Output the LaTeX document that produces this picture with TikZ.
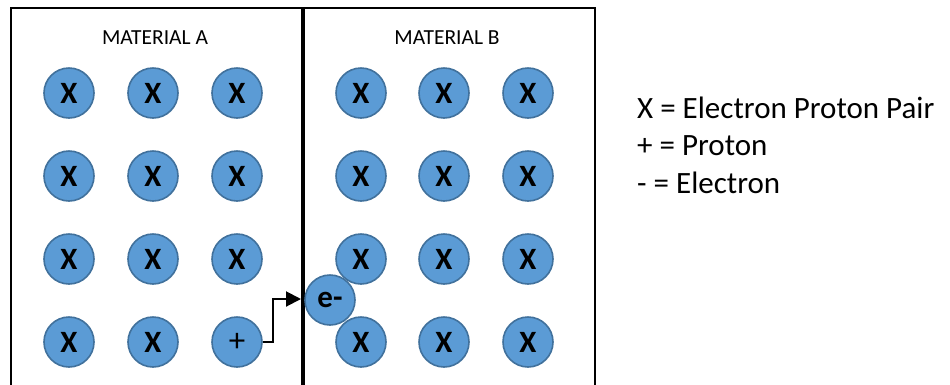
\documentclass[tikz,border=0pt]{standalone}
\usepackage{fontspec}
\setmainfont{Carlito}
\usetikzlibrary{arrows.meta}
\definecolor{ballfill}{HTML}{5B9BD5}
\definecolor{balledge}{HTML}{41719C}
\tikzset{
  ball/.style={circle, minimum size=50pt, inner sep=0pt, fill=ballfill, draw=balledge, line width=1.6pt, font=\fontsize{31}{31}\selectfont\bfseries},
  plusball/.style={ball, font=\fontsize{33}{33}\selectfont},
  frame/.style={line width=2pt, draw=black},
  title/.style={font=\fontsize{21.5}{21.5}\selectfont, anchor=base},
  legend/.style={font=\fontsize{31}{31}\selectfont, anchor=base west, inner sep=0pt},
  movearrow/.style={line width=2pt, -{Triangle[length=15pt,width=15pt]}}
}
\begin{document}
\begin{tikzpicture}[x=1pt,y=-1pt]
\useasboundingbox (0,0) rectangle (950,384);
% frames
\draw[frame] (11,390) -- (11,8) -- (302,8) -- (302,390);
\draw[frame] (303.5,390) -- (303.5,8) -- (595,8) -- (595,390);
\node[title] (titleA) at (155,44) {MATERIAL A};
\node[title] (titleB) at (447,44) {MATERIAL B};
% electron (behind the X balls)
\node[ball] (eminus) at (330,300) {e-};
% material A
\foreach \r/\y in {1/93,2/176,3/259}{
  \foreach \c/\x in {1/69,2/153,3/237}{
    \node[ball] (a\r\c) at (\x,\y) {X};
  }
}
\node[ball] (a41) at (69,342) {X};
\node[ball] (a42) at (153,342) {X};
\node[plusball] (plus) at (237,342) {+};
% material B
\foreach \r/\y in {1/93,2/176,3/259,4/342}{
  \foreach \c/\x in {1/361,2/444,3/528}{
    \node[ball] (b\r\c) at (\x,\y) {X};
  }
}
% arrow
\coordinate (tip) at (301,299);
\draw[movearrow] (plus.east) -- (273,342) |- (tip);
% legend
\node[legend] (leg1) at (637,118) {X = Electron Proton Pair};
\node[legend] (leg2) at (637,155.5) {+ = Proton};
\node[legend] (leg3) at (637,193) {- = Electron};
\end{tikzpicture}
\end{document}
